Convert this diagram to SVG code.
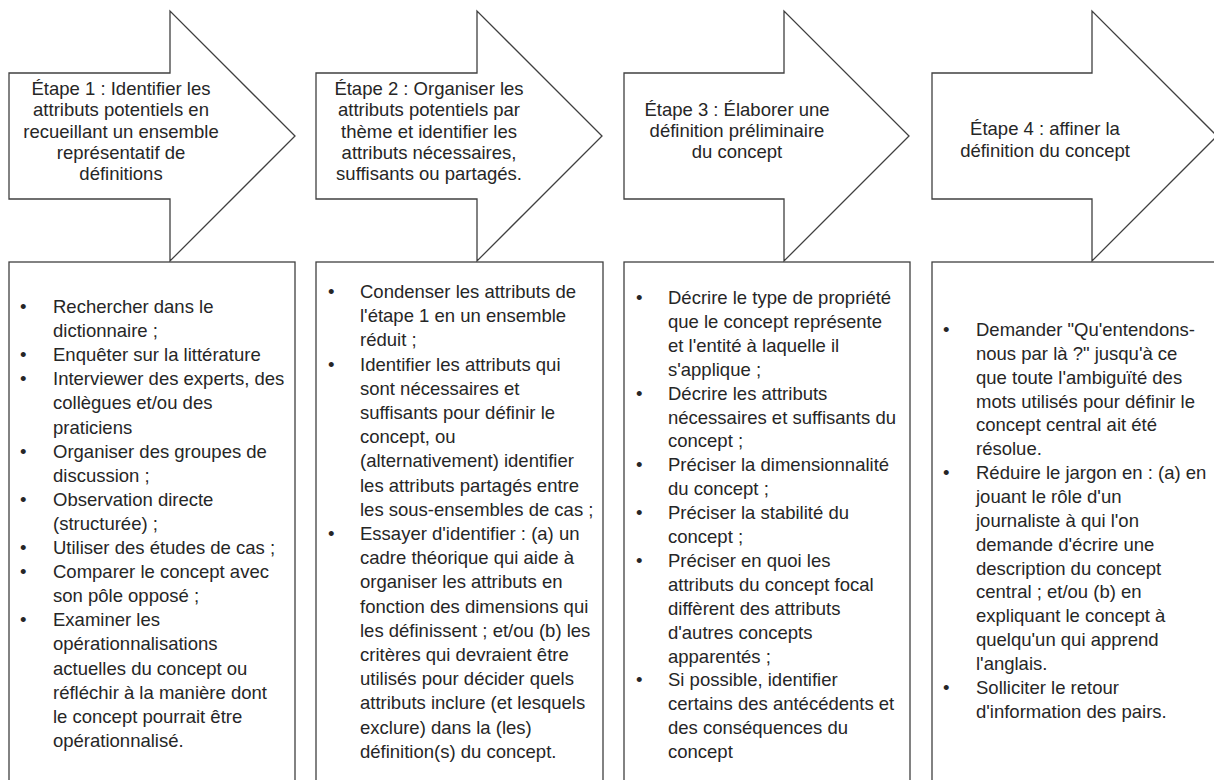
<svg xmlns="http://www.w3.org/2000/svg" width="1214" height="780" viewBox="0 0 1214 780">
<style>
.shape{fill:#fff;stroke:#404040;stroke-width:1.3}
.t{font-family:"Liberation Sans",Arial,sans-serif;font-size:18.5px;fill:#262626}
.h{text-anchor:middle}
.b{font-family:"Liberation Sans",Arial,sans-serif;font-size:18.5px;fill:#262626}
</style>
<rect width="1214" height="780" fill="#fff"/>
<g id="step1">
<path class="shape" d="M9,73 H170 V11 L295,136 L170,261 V199 H9 Z"/>
<text class="t h"><tspan x="121" y="95">Étape 1 : Identifier les</tspan><tspan x="121" y="116.3">attributs potentiels en</tspan><tspan x="121" y="137.5">recueillant un ensemble</tspan><tspan x="121" y="158.8">représentatif de</tspan><tspan x="121" y="180">définitions</tspan></text>
</g>
<g id="step2">
<path class="shape" d="M316,73 H477 V11 L602,136 L477,261 V199 H316 Z"/>
<text class="t h"><tspan x="429" y="95">Étape 2 : Organiser les</tspan><tspan x="429" y="116.3">attributs potentiels par</tspan><tspan x="429" y="137.5">thème et identifier les</tspan><tspan x="429" y="158.8">attributs nécessaires,</tspan><tspan x="429" y="180">suffisants ou partagés.</tspan></text>
</g>
<g id="step3">
<path class="shape" d="M624,73 H784 V11 L909,136 L784,261 V199 H624 Z"/>
<text class="t h"><tspan x="737" y="116">Étape 3 : Élaborer une</tspan><tspan x="737" y="137">définition préliminaire</tspan><tspan x="737" y="158">du concept</tspan></text>
</g>
<g id="step4">
<path class="shape" d="M932,73 H1092 V11 L1217,136 L1092,261 V199 H932 Z"/>
<text class="t h"><tspan x="1045" y="135">Étape 4 : affiner la</tspan><tspan x="1045" y="157">définition du concept</tspan></text>
</g>
<g id="box1">
<rect class="shape" x="9" y="262" width="286" height="530"/>
<text class="b"><tspan x="20" y="313">•</tspan><tspan x="20" y="361.2">•</tspan><tspan x="20" y="385.3">•</tspan><tspan x="20" y="457.6">•</tspan><tspan x="20" y="505.8">•</tspan><tspan x="20" y="554">•</tspan><tspan x="20" y="578.1">•</tspan><tspan x="20" y="626.3">•</tspan></text>
<text class="t"><tspan x="53" y="313">Rechercher dans le</tspan><tspan x="53" y="337.1">dictionnaire ;</tspan><tspan x="53" y="361.2">Enquêter sur la littérature</tspan><tspan x="53" y="385.3">Interviewer des experts, des</tspan><tspan x="53" y="409.4">collègues et/ou des</tspan><tspan x="53" y="433.5">praticiens</tspan><tspan x="53" y="457.6">Organiser des groupes de</tspan><tspan x="53" y="481.7">discussion ;</tspan><tspan x="53" y="505.8">Observation directe</tspan><tspan x="53" y="529.9">(structurée) ;</tspan><tspan x="53" y="554">Utiliser des études de cas ;</tspan><tspan x="53" y="578.1">Comparer le concept avec</tspan><tspan x="53" y="602.2">son pôle opposé ;</tspan><tspan x="53" y="626.3">Examiner les</tspan><tspan x="53" y="650.4">opérationnalisations</tspan><tspan x="53" y="674.5">actuelles du concept ou</tspan><tspan x="53" y="698.6">réfléchir à la manière dont</tspan><tspan x="53" y="722.7">le concept pourrait être</tspan><tspan x="53" y="746.8">opérationnalisé.</tspan></text>
</g>
<g id="box2">
<rect class="shape" x="316" y="262" width="287" height="530"/>
<text class="b"><tspan x="328" y="298">•</tspan><tspan x="328" y="370.6">•</tspan><tspan x="328" y="540">•</tspan></text>
<text class="t"><tspan x="360" y="298">Condenser les attributs de</tspan><tspan x="360" y="322.2">l'étape 1 en un ensemble</tspan><tspan x="360" y="346.4">réduit ;</tspan><tspan x="360" y="370.6">Identifier les attributs qui</tspan><tspan x="360" y="394.8">sont nécessaires et</tspan><tspan x="360" y="419">suffisants pour définir le</tspan><tspan x="360" y="443.2">concept, ou</tspan><tspan x="360" y="467.4">(alternativement) identifier</tspan><tspan x="360" y="491.6">les attributs partagés entre</tspan><tspan x="360" y="515.8">les sous-ensembles de cas ;</tspan><tspan x="360" y="540">Essayer d'identifier : (a) un</tspan><tspan x="360" y="564.2">cadre théorique qui aide à</tspan><tspan x="360" y="588.4">organiser les attributs en</tspan><tspan x="360" y="612.6">fonction des dimensions qui</tspan><tspan x="360" y="636.8">les définissent ; et/ou (b) les</tspan><tspan x="360" y="661">critères qui devraient être</tspan><tspan x="360" y="685.2">utilisés pour décider quels</tspan><tspan x="360" y="709.4">attributs inclure (et lesquels</tspan><tspan x="360" y="733.6">exclure) dans la (les)</tspan><tspan x="360" y="757.8">définition(s) du concept.</tspan></text>
</g>
<g id="box3">
<rect class="shape" x="624" y="262" width="286" height="530"/>
<text class="b"><tspan x="636" y="304">•</tspan><tspan x="636" y="399.6">•</tspan><tspan x="636" y="471.3">•</tspan><tspan x="636" y="519.1">•</tspan><tspan x="636" y="566.9">•</tspan><tspan x="636" y="686.4">•</tspan></text>
<text class="t"><tspan x="668" y="304">Décrire le type de propriété</tspan><tspan x="668" y="327.9">que le concept représente</tspan><tspan x="668" y="351.8">et l'entité à laquelle il</tspan><tspan x="668" y="375.7">s'applique ;</tspan><tspan x="668" y="399.6">Décrire les attributs</tspan><tspan x="668" y="423.5">nécessaires et suffisants du</tspan><tspan x="668" y="447.4">concept ;</tspan><tspan x="668" y="471.3">Préciser la dimensionnalité</tspan><tspan x="668" y="495.2">du concept ;</tspan><tspan x="668" y="519.1">Préciser la stabilité du</tspan><tspan x="668" y="543">concept ;</tspan><tspan x="668" y="566.9">Préciser en quoi les</tspan><tspan x="668" y="590.8">attributs du concept focal</tspan><tspan x="668" y="614.7">diffèrent des attributs</tspan><tspan x="668" y="638.6">d'autres concepts</tspan><tspan x="668" y="662.5">apparentés ;</tspan><tspan x="668" y="686.4">Si possible, identifier</tspan><tspan x="668" y="710.3">certains des antécédents et</tspan><tspan x="668" y="734.2">des conséquences du</tspan><tspan x="668" y="758.1">concept</tspan></text>
</g>
<g id="box4">
<rect class="shape" x="932" y="262" width="286" height="530"/>
<text class="b"><tspan x="943" y="336">•</tspan><tspan x="943" y="479.1">•</tspan><tspan x="943" y="693.75">•</tspan></text>
<text class="t"><tspan x="976" y="336">Demander "Qu'entendons-</tspan><tspan x="976" y="359.85">nous par là ?" jusqu'à ce</tspan><tspan x="976" y="383.7">que toute l'ambiguïté des</tspan><tspan x="976" y="407.55">mots utilisés pour définir le</tspan><tspan x="976" y="431.4">concept central ait été</tspan><tspan x="976" y="455.25">résolue.</tspan><tspan x="976" y="479.1">Réduire le jargon en : (a) en</tspan><tspan x="976" y="502.95">jouant le rôle d'un</tspan><tspan x="976" y="526.8">journaliste à qui l'on</tspan><tspan x="976" y="550.65">demande d'écrire une</tspan><tspan x="976" y="574.5">description du concept</tspan><tspan x="976" y="598.35">central ; et/ou (b) en</tspan><tspan x="976" y="622.2">expliquant le concept à</tspan><tspan x="976" y="646.05">quelqu'un qui apprend</tspan><tspan x="976" y="669.9">l'anglais.</tspan><tspan x="976" y="693.75">Solliciter le retour</tspan><tspan x="976" y="717.6">d'information des pairs.</tspan></text>
</g>
<g id="connectors"/>
</svg>
